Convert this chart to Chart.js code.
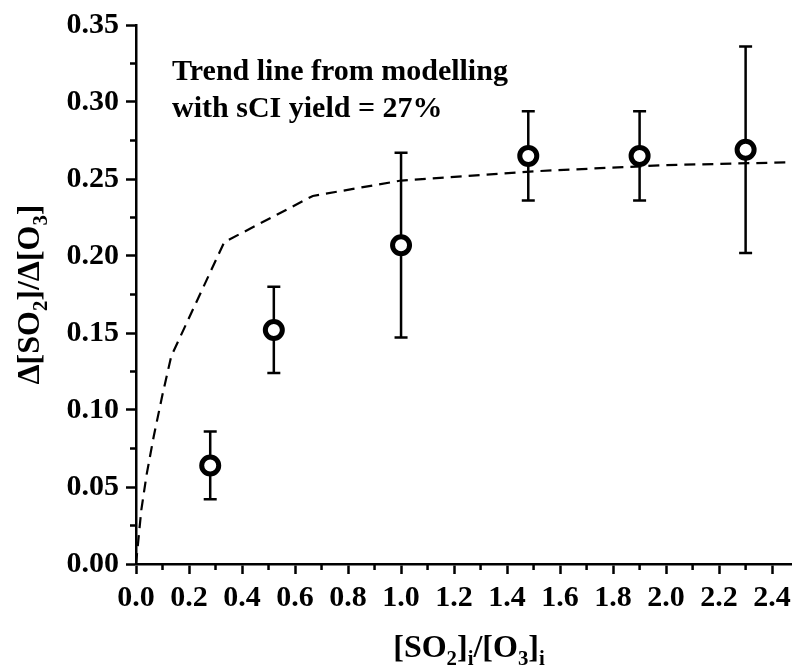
<!DOCTYPE html>
<html>
<head>
<meta charset="utf-8">
<script src="https://cdn.jsdelivr.net/npm/chart.js@4.4.1/dist/chart.umd.min.js"></script>
<style>
  body { margin: 0; background: #fff; }
  canvas { display: block; }
</style>
</head>
<body>
<canvas id="chart" width="792" height="666"></canvas>
<script>
// measured points
const ratio = [0.28, 0.52, 1.0, 1.48, 1.9, 2.3];
const yieldObs = [0.064, 0.152, 0.207, 0.265, 0.265, 0.269];
const errLow = [0.042, 0.124, 0.147, 0.236, 0.236, 0.202];
const errHigh = [0.086, 0.180, 0.267, 0.294, 0.294, 0.336];

// model trend line (sCI yield = 27%)
const modelX = [0, 0.02, 0.04, 0.067, 0.1, 0.133, 0.333, 0.667, 1.0, 1.5, 2.0, 2.5];
const modelY = [0, 0.035, 0.058, 0.083, 0.11, 0.135, 0.209, 0.239, 0.249, 0.255, 0.259, 0.261];

const xTicks = [0, 0.2, 0.4, 0.6, 0.8, 1.0, 1.2, 1.4, 1.6, 1.8, 2.0, 2.2, 2.4];
const yTicks = [0, 0.05, 0.10, 0.15, 0.20, 0.25, 0.30, 0.35];

const noteLines = ["Trend line from modelling", "with sCI yield = 27%"];

const FONT = '"Liberation Serif", "Times New Roman", serif';

// draws text pieces like [["[SO", 0], ["2", 1], ["]", 0]] where 1 = subscript
function drawRich(ctx, parts, size) {
  let total = 0;
  parts.forEach(p => {
    ctx.font = "bold " + (p[1] ? size * 0.65 : size) + "px " + FONT;
    total += ctx.measureText(p[0]).width;
  });
  let x = -total / 2;
  parts.forEach(p => {
    ctx.font = "bold " + (p[1] ? size * 0.65 : size) + "px " + FONT;
    ctx.fillText(p[0], x, p[1] ? size * 0.25 : 0);
    x += ctx.measureText(p[0]).width;
  });
}

const extras = {
  id: "extras",
  beforeDatasetsDraw(chart) {
    const ctx = chart.ctx;
    const xs = chart.scales.x, ys = chart.scales.y;
    ctx.save();
    ctx.strokeStyle = "#000";
    ctx.lineWidth = 2.5;
    // error bars
    ratio.forEach((r, i) => {
      const px = xs.getPixelForValue(r);
      const lo = ys.getPixelForValue(errLow[i]);
      const hi = ys.getPixelForValue(errHigh[i]);
      ctx.beginPath();
      ctx.moveTo(px, lo); ctx.lineTo(px, hi);
      ctx.moveTo(px - 6.5, lo); ctx.lineTo(px + 6.5, lo);
      ctx.moveTo(px - 6.5, hi); ctx.lineTo(px + 6.5, hi);
      ctx.stroke();
    });
    ctx.restore();
  },
  afterDraw(chart) {
    const ctx = chart.ctx;
    const xs = chart.scales.x, ys = chart.scales.y;
    const area = chart.chartArea;
    ctx.save();
    ctx.strokeStyle = "#000";
    ctx.fillStyle = "#000";
    ctx.lineWidth = 2.5;
    // minor ticks halfway between major ones
    ctx.beginPath();
    for (let i = 0; i < xTicks.length; i++) {
      const v = xTicks[i] + 0.1;
      if (v > xs.max) break;
      const px = xs.getPixelForValue(v);
      ctx.moveTo(px, area.bottom); ctx.lineTo(px, area.bottom + 6);
    }
    for (let i = 0; i < yTicks.length - 1; i++) {
      const py = ys.getPixelForValue(yTicks[i] + 0.025);
      ctx.moveTo(area.left, py); ctx.lineTo(area.left - 6, py);
    }
    ctx.stroke();

    // note text
    ctx.font = "bold 30px " + FONT;
    ctx.textAlign = "left";
    ctx.textBaseline = "alphabetic";
    ctx.fillText(noteLines[0], xs.getPixelForValue(0.136), ys.getPixelForValue(0.314));
    ctx.fillText(noteLines[1], xs.getPixelForValue(0.136), ys.getPixelForValue(0.290));

    // axis titles
    ctx.save();
    ctx.translate(469, 657);
    drawRich(ctx, [["[SO", 0], ["2", 1], ["]", 0], ["i", 1], ["/[O", 0], ["3", 1], ["]", 0], ["i", 1]], 32);
    ctx.restore();
    ctx.save();
    ctx.translate(39, (area.top + area.bottom) / 2);
    ctx.rotate(-Math.PI / 2);
    drawRich(ctx, [["\u0394[SO", 0], ["2", 1], ["]/\u0394[O", 0], ["3", 1], ["]", 0]], 32);
    ctx.restore();
    ctx.restore();
  }
};

new Chart(document.getElementById("chart").getContext("2d"), {
  type: "scatter",
  data: {
    datasets: [
      {
        label: "model",
        type: "line",
        data: modelX.map((x, i) => ({ x: x, y: modelY[i] })),
        borderColor: "#000",
        borderWidth: 2.2,
        borderDash: [11, 7],
        pointRadius: 0,
        fill: false,
        tension: 0,
        clip: false,
      },
      {
        label: "measured",
        data: ratio.map((x, i) => ({ x: x, y: yieldObs[i] })),
        pointRadius: 8.5,
        pointBorderWidth: 5,
        pointBackgroundColor: "#fff",
        pointBorderColor: "#000",
        clip: false,
      },
    ],
  },
  options: {
    responsive: false,
    animation: false,
    layout: { autoPadding: false, padding: { top: 25, right: 0, left: 0, bottom: 0 } },
    scales: {
      x: {
        type: "linear",
        min: 0,
        max: 2.475,
        afterBuildTicks: axis => { axis.ticks = xTicks.map(v => ({ value: v })); },
        afterFit: axis => {
          axis.height = 102;
          axis.paddingLeft = 0;
          axis.paddingRight = 0;
        },
        border: { color: "#000", width: 2.5 },
        grid: { drawOnChartArea: false, tickLength: 10, tickWidth: 2.5, tickColor: "#000" },
        ticks: {
          color: "#000",
          padding: 6,
          maxRotation: 0,
          font: { family: FONT, size: 30, weight: "bold" },
          callback: v => v.toFixed(1),
        },
      },
      y: {
        min: 0,
        max: 0.35,
        afterBuildTicks: axis => { axis.ticks = yTicks.map(v => ({ value: v })); },
        afterFit: axis => { axis.width = 136; },
        border: { color: "#000", width: 2.5 },
        grid: { drawOnChartArea: false, tickLength: 10, tickWidth: 2.5, tickColor: "#000" },
        ticks: {
          color: "#000",
          padding: 7,
          font: { family: FONT, size: 30, weight: "bold" },
          callback: v => v.toFixed(2),
        },
      },
    },
    plugins: {
      legend: { display: false },
      tooltip: { enabled: false },
    },
  },
  plugins: [extras],
});
</script>
</body>
</html>
